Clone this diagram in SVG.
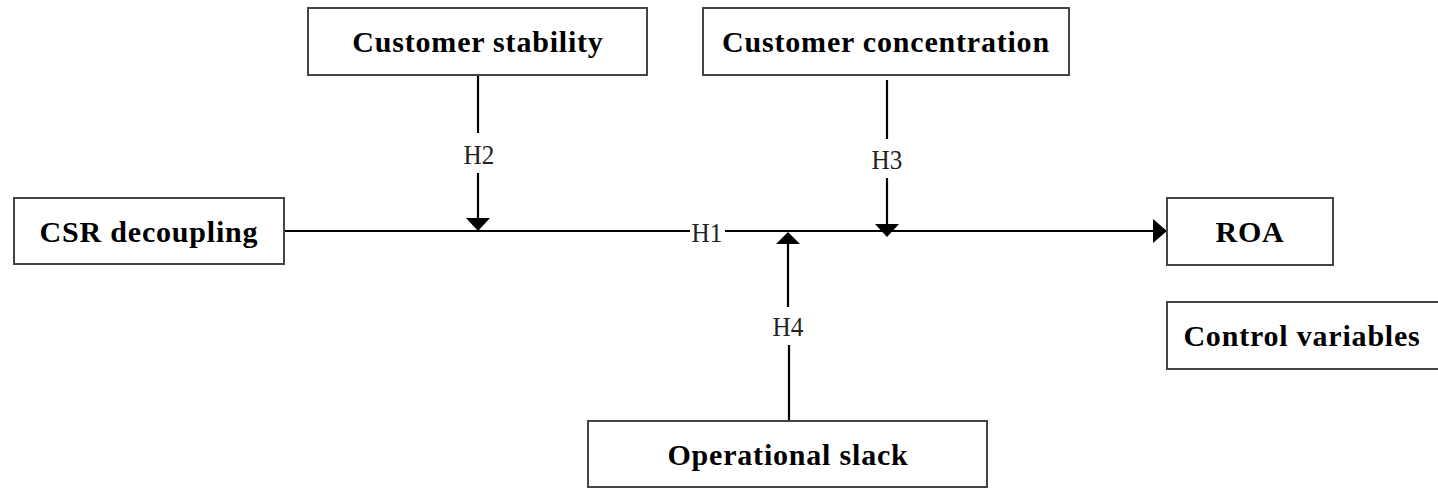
<svg xmlns="http://www.w3.org/2000/svg" width="1438" height="488" viewBox="0 0 1438 488">
<style>
.box{fill:#fff;stroke:#444;stroke-width:2}
.lbl{font-family:"Liberation Serif","Times New Roman",serif;font-weight:bold;font-size:30px;letter-spacing:0.8px;fill:#000;text-anchor:middle}
.h{font-family:"Liberation Serif","Times New Roman",serif;font-size:28px;fill:#222;text-anchor:middle}
.ln{stroke:#000;stroke-width:2.2;fill:none}
</style>
<g id="connectors">
<line class="ln" x1="284" y1="231" x2="690" y2="231"/>
<line class="ln" x1="725" y1="231" x2="1155" y2="231"/>
<path d="M1153,219 L1167,231 L1153,243 Z" fill="#000"/>
<line class="ln" x1="478" y1="75" x2="478" y2="133"/>
<line class="ln" x1="478" y1="173" x2="478" y2="218"/>
<path d="M466,218 L490,218 L478,231 Z" fill="#000"/>
<line class="ln" x1="887" y1="80" x2="887" y2="139"/>
<line class="ln" x1="887" y1="178" x2="887" y2="224"/>
<path d="M875,224 L899,224 L887,237 Z" fill="#000"/>
<line class="ln" x1="789" y1="421" x2="789" y2="345"/>
<line class="ln" x1="788" y1="307" x2="788" y2="244"/>
<path d="M776,244 L800,244 L788,232 Z" fill="#000"/>
<text class="h" x="707" y="242" transform="translate(707 0) scale(0.9 1) translate(-707 0)">H1</text>
<text class="h" x="479" y="164" transform="translate(479 0) scale(0.9 1) translate(-479 0)">H2</text>
<text class="h" x="887" y="169" transform="translate(887 0) scale(0.9 1) translate(-887 0)">H3</text>
<text class="h" x="788" y="336" transform="translate(788 0) scale(0.9 1) translate(-788 0)">H4</text>
</g>
<g id="csr">
<rect class="box" x="14" y="198" width="270" height="66"/>
<text class="lbl" x="149" y="242">CSR decoupling</text>
</g>
<g id="stability">
<rect class="box" x="308" y="8" width="339" height="67"/>
<text class="lbl" x="478" y="52">Customer stability</text>
</g>
<g id="concentration">
<rect class="box" x="703" y="8" width="366" height="67"/>
<text class="lbl" x="886" y="52">Customer concentration</text>
</g>
<g id="roa">
<rect class="box" x="1167" y="198" width="166" height="67"/>
<text class="lbl" x="1250" y="242">ROA</text>
</g>
<g id="control">
<rect class="box" x="1167" y="302" width="280" height="67"/>
<text class="lbl" x="1302" y="346">Control variables</text>
</g>
<g id="slack">
<rect class="box" x="588" y="421" width="399" height="66"/>
<text class="lbl" x="788" y="465">Operational slack</text>
</g>
</svg>
